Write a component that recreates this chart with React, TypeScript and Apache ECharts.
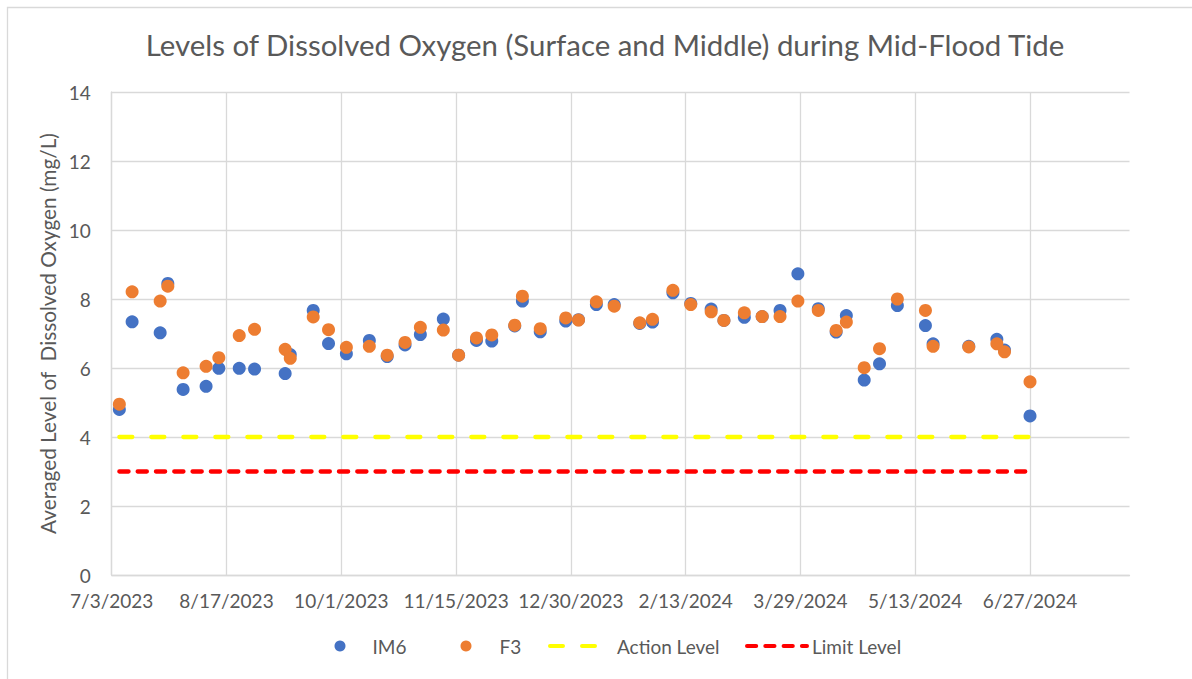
import React, { useEffect, useRef } from "react";
import * as echarts from "echarts";

// ---- Data ----
const sampleDates = [
  "2023-07-06", "2023-07-11", "2023-07-22", "2023-07-25", "2023-07-31", "2023-08-09",
  "2023-08-14", "2023-08-22", "2023-08-28", "2023-09-09", "2023-09-11", "2023-09-20",
  "2023-09-26", "2023-10-03", "2023-10-12", "2023-10-19", "2023-10-26", "2023-11-01",
  "2023-11-10", "2023-11-16", "2023-11-23", "2023-11-29", "2023-12-08", "2023-12-11",
  "2023-12-18", "2023-12-28", "2024-01-02", "2024-01-09", "2024-01-16", "2024-01-26",
  "2024-01-31", "2024-02-08", "2024-02-15", "2024-02-23", "2024-02-28", "2024-03-07",
  "2024-03-14", "2024-03-21", "2024-03-28", "2024-04-05", "2024-04-12", "2024-04-16",
  "2024-04-23", "2024-04-29", "2024-05-06", "2024-05-17", "2024-05-20", "2024-06-03",
  "2024-06-14", "2024-06-17", "2024-06-27",
];

const im6Values = [
  4.80, 7.34, 7.02, 8.45, 5.38, 5.47,
  5.99, 5.99, 5.97, 5.84, 6.39, 7.67,
  6.71, 6.41, 6.80, 6.33, 6.67, 6.97,
  7.42, 6.37, 6.80, 6.78, 7.22, 7.94,
  7.05, 7.36, 7.40, 7.84, 7.84, 7.29,
  7.33, 8.18, 7.87, 7.71, 7.38, 7.47,
  7.49, 7.67, 8.73, 7.72, 7.04, 7.52,
  5.65, 6.12, 7.81, 7.23, 6.70, 6.63,
  6.83, 6.52, 4.61,
];

const f3Values = [
  4.95, 8.21, 7.94, 8.37, 5.86, 6.05,
  6.30, 6.94, 7.12, 6.54, 6.28, 7.48,
  7.11, 6.60, 6.63, 6.37, 6.74, 7.18,
  7.10, 6.37, 6.87, 6.96, 7.24, 8.08,
  7.14, 7.45, 7.39, 7.92, 7.79, 7.31,
  7.41, 8.25, 7.84, 7.63, 7.38, 7.60,
  7.49, 7.49, 7.94, 7.67, 7.09, 7.33,
  6.01, 6.56, 8.00, 7.67, 6.63, 6.61,
  6.70, 6.47, 5.60,
];

const actionLevel = 4;
const limitLevel = 3;

const xTickLabels = [
  "7/3/2023", "8/17/2023", "10/1/2023", "11/15/2023", "12/30/2023",
  "2/13/2024", "3/29/2024", "5/13/2024", "6/27/2024",
];

const seriesNames = ["IM6", "F3", "Action Level", "Limit Level"];

// ---- helpers ----
const AXIS_START = Date.UTC(2023, 6, 3);
const TICK_DAYS = 45;
const AXIS_MAX_DAYS = 399;
const dayOf = (s: string) => {
  const [y, m, d] = s.split("-").map(Number);
  return Math.round((Date.UTC(y, m - 1, d) - AXIS_START) / 86400000);
};

const FONT = "Lato";
const TEXT_COLOR = "#595959";
const GRID_COLOR = "#d9d9d9";

export default function App() {
  const ref = useRef<HTMLDivElement>(null);

  useEffect(() => {
    if (!ref.current) return;
    const chart = echarts.init(ref.current, undefined, { renderer: "svg" });

    const im6Data = sampleDates.map((d, i) => [dayOf(d), im6Values[i]]);
    const f3Data = sampleDates.map((d, i) => [dayOf(d), f3Values[i]]);
    const actionData = sampleDates.map((d) => [dayOf(d), actionLevel]);
    const limitData = sampleDates.map((d) => [dayOf(d), limitLevel]);

    const legendText = { fontFamily: FONT, fontSize: 19, color: TEXT_COLOR };

    chart.setOption({
      animation: false,
      backgroundColor: "#ffffff",
      textStyle: { fontFamily: FONT },
      title: {
        text: "Levels of Dissolved Oxygen (Surface and Middle) during Mid-Flood Tide",
        left: 600,
        textAlign: "center",
        top: 25,
        textStyle: { fontFamily: FONT, fontSize: 29.4, fontWeight: "normal", color: TEXT_COLOR },
      },
      graphic: [
        {
          type: "rect",
          shape: { x: 7.5, y: 7.5, width: 1200, height: 700 },
          style: { fill: "none", stroke: GRID_COLOR, lineWidth: 1.3 },
          silent: true,
        },
      ],
      grid: { left: 111.7, right: 62.5, top: 92, bottom: 104 },
      legend: [
        {
          data: [seriesNames[0]], left: 334.5, top: 636.5, padding: 0,
          icon: "circle", itemWidth: 11, itemHeight: 11, itemGap: 0,
          textStyle: { ...legendText, padding: [0, 0, 0, 22] },
        },
        {
          data: [seriesNames[1]], left: 460.5, top: 636.5, padding: 0,
          icon: "circle", itemWidth: 11, itemHeight: 11, itemGap: 0,
          textStyle: { ...legendText, padding: [0, 0, 0, 23] },
        },
        {
          data: [seriesNames[2]], left: 548, top: 636.5, padding: 0,
          itemWidth: 62, itemHeight: 11, itemGap: 0, textStyle: legendText,
          lineStyle: { width: 4 }, itemStyle: { opacity: 0 },
        },
        {
          data: [seriesNames[3]], left: 745, top: 636.5, padding: 0,
          itemWidth: 60, itemHeight: 11, itemGap: 0, textStyle: legendText,
          lineStyle: { width: 4 }, itemStyle: { opacity: 0 },
        },
      ],
      xAxis: {
        type: "value",
        min: 0,
        max: AXIS_MAX_DAYS,
        interval: TICK_DAYS,
        axisLine: { show: true, lineStyle: { color: GRID_COLOR, width: 1.3 } },
        axisTick: { show: false },
        splitLine: { show: true, showMaxLine: false, lineStyle: { color: GRID_COLOR, width: 1.3 } },
        axisLabel: {
          show: true,
          showMaxLabel: false,
          margin: 16,
          fontFamily: FONT,
          fontSize: 19,
          color: TEXT_COLOR,
          formatter: (v: number) => xTickLabels[Math.round(v / TICK_DAYS)] ?? "",
        },
      },
      yAxis: {
        type: "value",
        min: 0,
        max: 14,
        interval: 2,
        name: "Averaged Level of  Dissolved Oxygen (mg/L)",
        nameLocation: "middle",
        nameGap: 49,
        nameTextStyle: { fontFamily: FONT, fontSize: 20.8, color: TEXT_COLOR },
        axisLine: { show: true, lineStyle: { color: GRID_COLOR, width: 1.3 } },
        axisTick: { show: false },
        splitLine: { show: true, lineStyle: { color: GRID_COLOR, width: 1.3 } },
        axisLabel: { margin: 21, fontFamily: FONT, fontSize: 19, color: TEXT_COLOR },
      },
      series: [
        {
          name: seriesNames[2],
          type: "line",
          data: actionData,
          symbol: "none",
          color: "#FFFF00",
          lineStyle: { color: "#FFFF00", width: 4.3, type: [13, 19], cap: "round" },
          silent: true,
          z: 2,
        },
        {
          name: seriesNames[3],
          type: "line",
          data: limitData,
          symbol: "none",
          color: "#FF0000",
          lineStyle: { color: "#FF0000", width: 4.3, type: [9.2, 9.1], cap: "round" },
          silent: true,
          z: 2,
        },
        {
          name: seriesNames[0],
          type: "scatter",
          data: im6Data,
          symbol: "circle",
          symbolSize: 13,
          itemStyle: { color: "#4472C4", opacity: 1 },
          z: 3,
        },
        {
          name: seriesNames[1],
          type: "scatter",
          data: f3Data,
          symbol: "circle",
          symbolSize: 13,
          itemStyle: { color: "#ED7D31", opacity: 1 },
          z: 4,
        },
      ],
    });

    return () => chart.dispose();
  }, []);

  return (
    <div
      ref={ref}
      style={{ position: "absolute", left: 0, top: 0, width: 1192, height: 679 }}
    />
  );
}
